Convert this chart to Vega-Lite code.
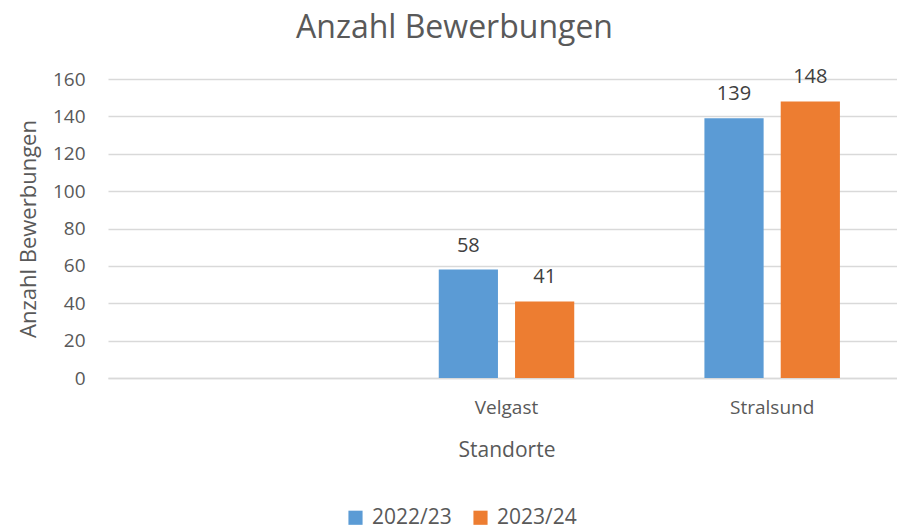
{
  "$schema": "https://vega.github.io/schema/vega-lite/v6.json",
  "width": 789,
  "height": 299,
  "autosize": {"type": "none"},
  "padding": {"left": 108, "top": 79, "right": 0, "bottom": 152},
  "background": "white",
  "title": {
    "text": "Anzahl Bewerbungen",
    "fontSize": 32,
    "font": "Open Sans",
    "fontWeight": "normal",
    "color": "#595959",
    "anchor": "middle",
    "dx": -48,
    "offset": 22
  },
  "data": {
    "values": [
      {"Standort": "Velgast", "Jahr": "2022/23", "Anzahl": 58},
      {"Standort": "Velgast", "Jahr": "2023/24", "Anzahl": 41},
      {"Standort": "Stralsund", "Jahr": "2022/23", "Anzahl": 139},
      {"Standort": "Stralsund", "Jahr": "2023/24", "Anzahl": 148}
    ]
  },
  "encoding": {
    "x": {
      "field": "Standort",
      "type": "nominal",
      "sort": [" ", "Velgast", "Stralsund"],
      "scale": {"domain": [" ", "Velgast", "Stralsund"], "range": [0, 797], "paddingInner": 0.49, "paddingOuter": 0.245},
      "axis": {
        "title": "Standorte",
        "labelAngle": 0,
        "labelFontSize": 19,
        "labelFont": "Open Sans",
        "labelColor": "#595959",
        "labelPadding": 20,
        "titleFontSize": 21,
        "titleFont": "Open Sans",
        "titleFontWeight": "normal",
        "titleColor": "#595959",
        "titlePadding": 22,
        "ticks": false,
        "domainColor": "#d9d9d9",
        "domainWidth": 1.5
      }
    },
    "xOffset": {
      "field": "Jahr",
      "type": "nominal",
      "scale": {"paddingInner": 0.224, "paddingOuter": 0}
    },
    "y": {
      "field": "Anzahl",
      "type": "quantitative",
      "scale": {"domain": [0, 160]},
      "axis": {
        "title": "Anzahl Bewerbungen",
        "values": [0, 20, 40, 60, 80, 100, 120, 140, 160],
        "labelFontSize": 19,
        "labelFont": "Open Sans",
        "labelColor": "#595959",
        "labelPadding": 23,
        "titleFontSize": 22,
        "titleFont": "Open Sans",
        "titleFontWeight": "normal",
        "titleColor": "#595959",
        "titlePadding": 12,
        "ticks": false,
        "domain": false,
        "gridColor": "#d9d9d9",
        "gridWidth": 1.5
      }
    }
  },
  "layer": [
    {
      "mark": {"type": "bar"},
      "encoding": {
        "color": {
          "field": "Jahr",
          "type": "nominal",
          "scale": {"domain": ["2022/23", "2023/24"], "range": ["#5B9BD5", "#ED7D31"]},
          "legend": {
            "title": null,
            "orient": "none",
            "direction": "horizontal",
            "legendX": 237,
            "legendY": 428,
            "symbolType": "square",
            "symbolSize": 200,
            "symbolStrokeWidth": 0,
            "labelFontSize": 21,
            "labelFont": "Open Sans",
            "labelColor": "#595959",
            "columnPadding": 18,
            "labelOffset": 6
          }
        }
      }
    },
    {
      "mark": {"type": "text", "dy": -24, "baseline": "middle", "fontSize": 20, "font": "Open Sans", "color": "#404040"},
      "encoding": {
        "text": {"field": "Anzahl", "type": "quantitative"}
      }
    }
  ],
  "config": {"view": {"stroke": null}}
}
